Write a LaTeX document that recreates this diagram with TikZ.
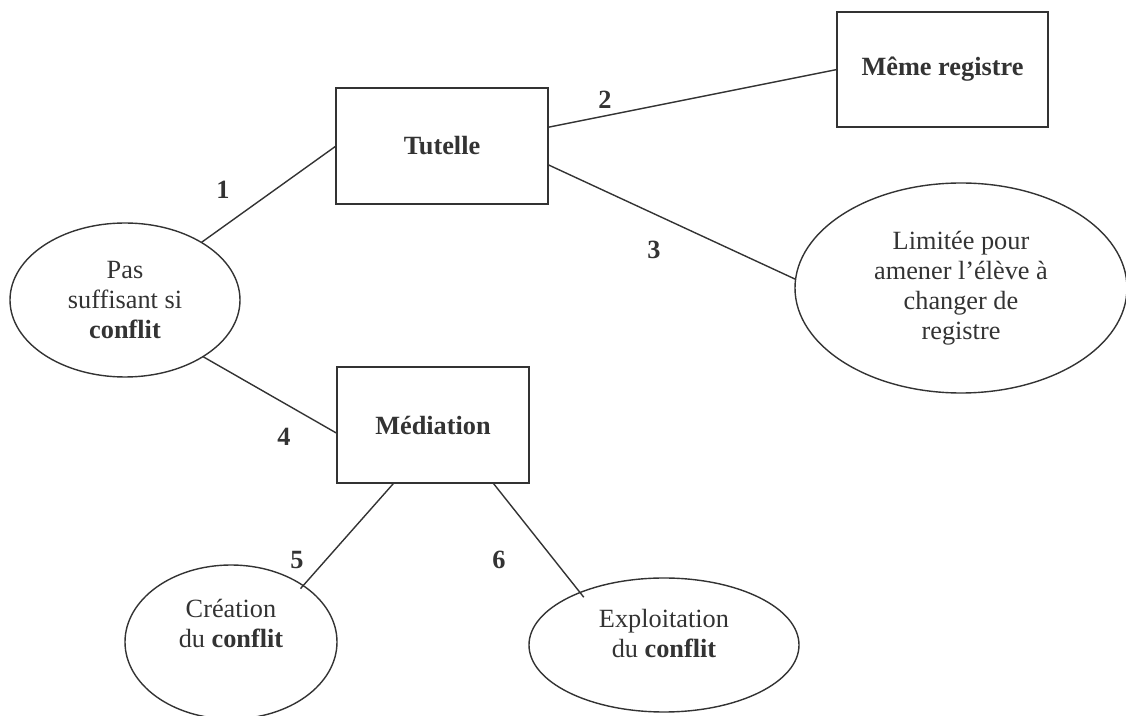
\documentclass[tikz,border=0pt]{standalone}
\usepackage{fontspec}
\setmainfont{Liberation Serif}
\usetikzlibrary{shapes.geometric}
\definecolor{ink}{RGB}{51,51,51}
\newcommand\liftup[2]{\raisebox{#1}[\height][\depth]{\begin{tabular}{@{}c@{}}#2\end{tabular}}}
\begin{document}
\begin{tikzpicture}[x=0.5pt,y=-0.5pt,
  every node/.style={font=\fontsize{13.15}{15}\selectfont, text=ink, inner sep=0pt, outer sep=0pt},
  box/.style={draw=ink, line width=0.7pt, rectangle, align=center},
  oval/.style={draw=ink, line width=0.7pt, ellipse, align=center},
  link/.style={draw=ink, line width=0.7pt},
  num/.style={font=\fontsize{13.15}{15}\selectfont\bfseries}]
\useasboundingbox (0,0) rectangle (1126,716);

\node[box, minimum width=106pt, minimum height=58pt] (tut) at (442,146) {\textbf{Tutelle}};
\node[box, minimum width=105.5pt, minimum height=57.5pt] (mr) at (942.5,69.5) {\textbf{Même registre}};
\node[box, minimum width=96pt, minimum height=58pt] (med) at (433,425) {\textbf{Médiation}};

\node[oval, minimum width=115pt, minimum height=77pt] (pas) at (125,300) {Pas\\suffisant si\\\textbf{conflit}};
\node[oval, minimum width=166pt, minimum height=105pt] (lim) at (961,288) {Limitée pour\\amener l’élève à\\changer de\\registre};
\node[oval, minimum width=106pt, minimum height=77pt] (cre) at (231,642) {\liftup{7.5pt}{Création\\du \textbf{conflit}}};
\node[oval, minimum width=135pt, minimum height=67pt] (exp) at (664,645) {\liftup{4pt}{Exploitation\\du \textbf{conflit}}};

\draw[link] (pas.37.6) -- (tut.west);
\draw[link] (tut.10.7) -- (mr.west);
\draw[link] (tut.-10) -- (lim.177);
\draw[link] (pas.-36.6) -- (med.185);
\draw[link, shorten >=-2pt] (med.236.1) -- (cre.38.6);
\draw[link, shorten >=-3pt] (med.-44.5) -- (exp.148.9);

\node[num] (n1) at (223,190) {1};
\node[num] (n2) at (605,100) {2};
\node[num] (n3) at (654,250) {3};
\node[num] (n4) at (284,437) {4};
\node[num] (n5) at (297,560) {5};
\node[num] (n6) at (499,560) {6};
\end{tikzpicture}
\end{document}
